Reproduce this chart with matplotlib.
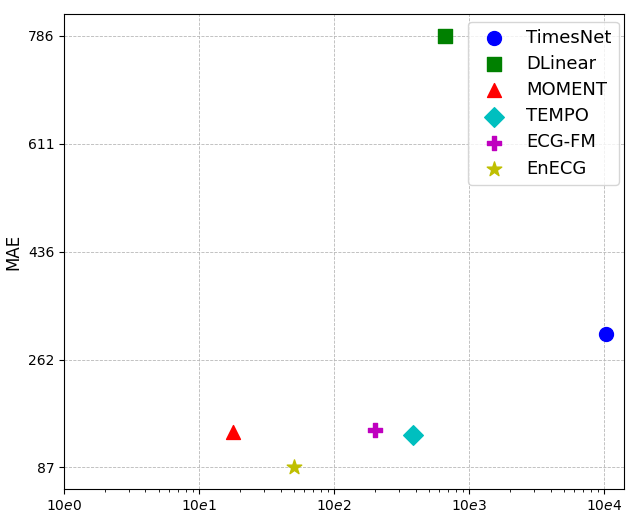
import numpy as np
import matplotlib.pyplot as plt

# params (x, log scale) and MAE (y)
models = ['TimesNet', 'DLinear', 'MOMENT', 'TEMPO', 'ECG-FM', 'EnECG']
params = [1.03e4, 665, 17.9, 385, 201, 50.5]
mae = [303, 786, 145, 140, 147, 87]
markers = ['o', 's', '^', 'D', 'P', '*']
colors = ['b', 'g', 'r', 'c', 'm', 'y']
sizes = [100, 100, 100, 100, 100, 120]

fig, ax = plt.subplots(figsize=(6.42, 5.17), dpi=100)

for i in range(len(models)):
    ax.scatter(params[i], mae[i], marker=markers[i], c=colors[i], s=sizes[i],
               label=models[i], zorder=3)

ax.set_xscale('log')
ax.set_xlim(1, 1.4e4)
xt = [1, 10, 100, 1000, 10000]
ax.set_xticks(xt)
ax.set_xticklabels(['$10e%d$' % k for k in range(len(xt))])

ymin, ymax = min(mae), max(mae)
yt = np.linspace(ymin, ymax, 5)
ax.set_yticks(yt)
ax.set_yticklabels(['87', '262', '436', '611', '786'])
pad = 0.05 * (ymax - ymin)
ax.set_ylim(ymin - pad, ymax + pad)

ax.tick_params(labelsize=10)
ax.set_ylabel('MAE', fontsize=12)
ax.grid(True, which='major', linestyle='--', color='#b8b8b8', linewidth=0.6)
ax.legend(loc='upper right', bbox_to_anchor=(1.0, 0.995), fontsize=13,
          borderpad=0.4, labelspacing=0.45, borderaxespad=0.3)

plt.subplots_adjust(left=0.1, right=0.972, top=0.973, bottom=0.054)
plt.savefig('out.png', dpi=100)
